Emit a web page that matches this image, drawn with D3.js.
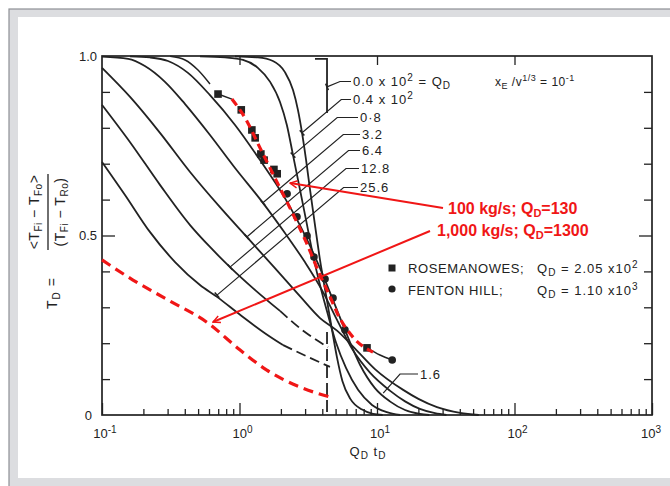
<!DOCTYPE html>
<html>
<head>
<meta charset="utf-8">
<script src="https://cdn.jsdelivr.net/npm/d3@7"></script>
<style>
  body { margin: 0; background: #fff; }
  svg { display: block; font-family: "Liberation Sans", Arial, sans-serif; }
</style>
</head>
<body>
<svg id="chart" width="670" height="486"></svg>
<script>
// type curves, Q_D x 10^2, points are [Q_D t_D, T_D]
const qd04 = [[0.928,0.999],[1.36,0.996],[1.75,0.986],[2.14,0.955],[2.45,0.905],[2.66,0.850],[2.85,0.786],[3.05,0.710],[3.26,0.627],[3.54,0.529],[3.85,0.432],[4.26,0.334],[4.71,0.237],[5.12,0.160],[5.6,0.095],[6.4,0.045],[7.8,0.015],[9.35,0.003],[11,0]];
const qd08 = [[0.516,0.999],[0.785,0.996],[1.06,0.989],[1.36,0.967],[1.67,0.928],[1.97,0.872],[2.21,0.808],[2.45,0.724],[2.71,0.641],[3.05,0.543],[3.42,0.446],[3.85,0.362],[4.40,0.279],[5.04,0.201],[5.95,0.131],[7.28,0.070],[9.20,0.028],[11.8,0.008],[14.7,0]];
const qd16 = [[0.160,0.999],[0.223,0.996],[0.302,0.986],[0.422,0.953],[0.610,0.891],[0.928,0.808],[1.41,0.710],[2.14,0.604],[2.99,0.501],[3.85,0.409],[4.79,0.320],[5.85,0.237],[7.52,0.140],[9.66,0.075],[12.4,0.038],[16.0,0.014],[20.5,0.003],[24,0]];
const qd32 = [[0.100,0.998],[0.155,0.992],[0.205,0.972],[0.287,0.928],[0.402,0.866],[0.610,0.780],[0.928,0.688],[1.48,0.591],[2.14,0.507],[2.99,0.426],[3.98,0.348],[5.12,0.265],[6.57,0.185],[8.89,0.118],[12.4,0.068],[16.0,0.038],[20.5,0.017],[26.4,0.005],[32,0]];
const qd64 = [[0.100,0.967],[0.160,0.886],[0.264,0.786],[0.437,0.677],[0.721,0.579],[1.13,0.496],[1.81,0.409],[2.75,0.331],[3.85,0.270],[5.12,0.235],[6.92,0.185],[9.66,0.128],[15.5,0.070],[20,0.045],[27.3,0.022],[40.2,0.006],[55,0]];
const qd128 = [[0.100,0.864],[0.160,0.760],[0.264,0.641],[0.437,0.529],[0.610,0.468],[0.853,0.412],[1.30,0.348],[1.97,0.290],[2.99,0.231],[4.40,0.189]];
const qd256 = [[0.100,0.705],[0.147,0.613],[0.223,0.510],[0.340,0.426],[0.516,0.362],[0.686,0.329],[1.01,0.279],[1.53,0.228],[2.07,0.195],[3.26,0.159],[4.55,0.134]];
// Q_D = 0 (step)
const qd0Top = [[3.54,0.992],[4.33,0.992],[4.33,0.841]];
const qd0Bottom = [[4.33,0.231],[4.33,0]];

// curve through the field data (black)
const fitTop = [[0.313,0.999],[0.402,0.989],[0.499,0.961],[0.610,0.922]];
const fitLink = [[0.698,0.894],[0.88,0.880]];
const fitTail = [[8.46,0.187],[10.5,0.167],[12.9,0.153]];

// field data
const rosemanowes = [[0.698,0.894],[1.03,0.850],[1.23,0.794],[1.30,0.772],[1.43,0.727],[1.51,0.710],[1.78,0.684],[1.88,0.672],[8.46,0.187]];
const fentonHill = [[2.22,0.616],[2.62,0.552],[3.10,0.499],[3.48,0.440],[4.19,0.379],[4.79,0.326],[5.85,0.237],[12.9,0.153]];

// red annotation curves
const red130 = [[0.88,0.880],[1.10,0.827],[1.41,0.744],[1.84,0.655],[2.41,0.565],[3.05,0.482],[3.85,0.390],[4.55,0.330],[5.12,0.285],[6.68,0.217],[9.35,0.175]];
const red1300 = [[0.1,0.432],[0.168,0.376],[0.297,0.322],[0.581,0.258],[1.01,0.181],[1.58,0.125],[2.75,0.078],[4.55,0.050]];
const arrowTips = [[2.33,0.646],[0.641,0.259]];

// labels
const curveLabels = [
  [['0.0 x 10',''],['2','sup'],[' = Q',''],['D','sub']],
  [['0.4 x 10',''],['2','sup']],
  [['0·8','']], [['3.2','']], [['6.4','']], [['12.8','']], [['25.6','']]
];
const labelTicks = [[4.33,0.914],[2.85,0.786],[2.45,0.724],[1.48,0.591],[1.13,0.496],[0.853,0.412],[0.686,0.334]];
const label16Tick = [11.1,0.061];
const xTickVals = [0.1, 1, 10, 100, 1000];
const xTickExp = ['-1', '0', '1', '2', '3'];
const yTickVals = [0, 0.5, 1];
const yTickText = ['0', '0.5', '1.0'];

const ink = '#222';
const red = '#f01616';

const svg = d3.select('#chart');
const x = d3.scaleLog().domain([0.1, 1000]).range([102, 652]);
const y = d3.scaleLinear().domain([0, 1]).range([415, 56]);

function rich(sel, parts, small) {
  let shift = 0;
  parts.forEach(([t, k]) => {
    const want = k === 'sub' ? 3 : k === 'sup' ? -5 : 0;
    sel.append('tspan').attr('dy', want - shift).attr('font-size', k ? small : null).text(t);
    shift = want;
  });
  return sel;
}

// slide frame
svg.append('rect').attr('width', 670).attr('height', 486).attr('fill', '#fff');
svg.append('rect').attr('x', 9).attr('y', 9).attr('width', 670).attr('height', 490)
  .attr('fill', '#dcdde0').attr('stroke', '#8e9095').attr('stroke-width', 1.2);
svg.append('rect').attr('x', 18).attr('y', 17).attr('width', 660).attr('height', 461).attr('fill', '#fff');

// ticks
function ticks(axis, tx, ty) {
  svg.append('g').attr('transform', `translate(${tx},${ty})`)
    .call(axis.tickFormat(''))
    .call(g => g.select('.domain').remove())
    .call(g => g.selectAll('line').attr('stroke', ink).attr('stroke-width', 1.3));
}
const minorX = d3.range(-1, 3).flatMap(e => d3.range(2, 10).map(m => m * Math.pow(10, e)));
const minorY = d3.range(1, 10).map(i => i / 10).filter(v => v !== 0.5);
ticks(d3.axisBottom(x).tickValues(minorX).tickSize(-6), 0, y(0));
ticks(d3.axisBottom(x).tickValues(xTickVals).tickSize(-12), 0, y(0));
ticks(d3.axisTop(x).tickValues([1, 10, 100]).tickSize(-9), 0, y(1));
ticks(d3.axisLeft(y).tickValues(minorY).tickSize(-8), x(0.1), 0);
ticks(d3.axisLeft(y).tickValues([0.5]).tickSize(-13), x(0.1), 0);
ticks(d3.axisRight(y).tickValues(minorY).tickSize(-8), x(1000), 0);
ticks(d3.axisRight(y).tickValues([0.5]).tickSize(-13), x(1000), 0);

svg.append('rect').attr('x', x(0.1)).attr('y', y(1)).attr('width', x(1000) - x(0.1)).attr('height', y(0) - y(1))
  .attr('fill', 'none').attr('stroke', ink).attr('stroke-width', 1.7);

// tick labels
const lbl = svg.append('g').attr('fill', ink).attr('font-size', 13);
yTickVals.forEach((v, i) => {
  lbl.append('text').attr('x', v === 0 ? 92 : 97).attr('y', y(v) + 4.5).attr('text-anchor', 'end').text(yTickText[i]);
});
xTickVals.forEach((v, i) => {
  rich(lbl.append('text').attr('x', x(v) + (i === 4 ? -1 : 3)).attr('y', 438).attr('text-anchor', 'middle'),
    [['10', ''], [xTickExp[i], 'sup']], 10);
});
rich(lbl.append('text').attr('x', 368).attr('y', 456).attr('text-anchor', 'middle').attr('letter-spacing', 1),
  [['Q', ''], ['D', 'sub'], [' t', ''], ['D', 'sub']], 10);

// y axis title
const yt = svg.append('g').attr('transform', 'translate(48,212) rotate(-90)').attr('fill', ink).attr('font-size', 14);
rich(yt.append('text').attr('x', -97).attr('y', 9).attr('letter-spacing', 1), [['T', ''], ['D', 'sub'], [' =', '']], 10);
yt.append('line').attr('x1', -38).attr('x2', 38).attr('stroke', ink).attr('stroke-width', 1.3);
rich(yt.append('text').attr('y', -9).attr('text-anchor', 'middle').attr('letter-spacing', 0.5),
  [['<T', ''], ['Fi', 'sub'], [' − T', ''], ['Fo', 'sub'], ['>', '']], 10);
rich(yt.append('text').attr('y', 17).attr('text-anchor', 'middle').attr('letter-spacing', 0.5),
  [['(T', ''], ['Fi', 'sub'], [' − T', ''], ['Ro', 'sub'], [')', '']], 10);

// curves
const line = d3.line().x(d => x(d[0])).y(d => y(d[1])).curve(d3.curveMonotoneX);
const straight = d3.line().x(d => x(d[0])).y(d => y(d[1]));
const typeCurves = [
  { pts: qd04 }, { pts: qd08 }, { pts: qd16 }, { pts: qd32 }, { pts: qd64 },
  { pts: qd128, dashAfter: 2.1 }, { pts: qd256, dashAfter: 2.1 }
];
const cg = svg.append('g').attr('fill', 'none').attr('stroke', ink).attr('stroke-width', 1.8);
typeCurves.forEach(c => {
  const solid = c.dashAfter ? c.pts.filter(d => d[0] <= c.dashAfter) : c.pts;
  cg.append('path').attr('d', line(solid));
  if (c.dashAfter) {
    cg.append('path').attr('d', line(c.pts.slice(solid.length - 1))).attr('stroke-dasharray', '10,5');
  }
});
cg.append('path').attr('d', straight(qd0Top));
cg.append('path').attr('d', straight(qd0Bottom)).attr('stroke-dasharray', '12,5');
[fitTop, fitLink, fitTail].forEach(s => cg.append('path').attr('d', line(s)).attr('stroke-width', 1.5));

// leaders for curve labels
const lg = svg.append('g').attr('stroke', ink).attr('stroke-width', 1.2).attr('fill', 'none');
const tg = svg.append('g').attr('fill', ink).attr('font-size', 13).attr('letter-spacing', 1);
const labelX = [353, 353, 360, 362, 362, 361, 360];
const labelY = [86, 104, 122, 139, 155, 173, 192];
labelTicks.forEach((t, i) => {
  const px = x(t[0]), py = y(t[1]);
  const ey = labelY[i] - 4.5;
  const ex = i === 0 ? 340 : px + (py - ey) / 0.85;
  lg.append('path').attr('d', `M${px},${py}L${ex},${ey}L${labelX[i] - 2},${ey}`);
  const ang = Math.atan2(ey - py, ex - px) + Math.PI / 2;
  lg.append('line').attr('x1', px - 3.5 * Math.cos(ang)).attr('y1', py - 3.5 * Math.sin(ang))
    .attr('x2', px + 3.5 * Math.cos(ang)).attr('y2', py + 3.5 * Math.sin(ang)).attr('stroke-width', 1.6);
  rich(tg.append('text').attr('x', labelX[i]).attr('y', labelY[i]), curveLabels[i], 10);
});
{
  const px = x(label16Tick[0]), py = y(label16Tick[1]);
  lg.append('path').attr('d', `M${px},${py}L400,374L418,374`);
  tg.append('text').attr('x', 420).attr('y', 379).text('1.6');
}
rich(tg.append('text').attr('x', 495).attr('y', 86).attr('font-size', 12).attr('letter-spacing', 0.5),
  [['x', ''], ['E', 'sub'], [' /v', ''], ['1/3', 'sup'], [' = 10', ''], ['-1', 'sup']], 9);

// legend
svg.append('rect').attr('x', 388.5).attr('y', 264.5).attr('width', 7).attr('height', 7).attr('fill', ink);
svg.append('circle').attr('cx', 392).attr('cy', 289).attr('r', 3.6).attr('fill', ink);
tg.append('text').attr('x', 408).attr('y', 273).attr('letter-spacing', 0.6).text('ROSEMANOWES;');
tg.append('text').attr('x', 408).attr('y', 295).attr('letter-spacing', 0.6).text('FENTON HILL;');
rich(tg.append('text').attr('x', 537).attr('y', 273), [['Q', ''], ['D', 'sub'], [' = 2.05 x10', ''], ['2', 'sup']], 10);
rich(tg.append('text').attr('x', 537).attr('y', 295), [['Q', ''], ['D', 'sub'], [' = 1.10 x10', ''], ['3', 'sup']], 10);

// data markers
svg.append('g').selectAll('rect').data(rosemanowes).join('rect')
  .attr('x', d => x(d[0]) - 3.8).attr('y', d => y(d[1]) - 3.8).attr('width', 7.6).attr('height', 7.6).attr('fill', ink);
svg.append('g').selectAll('circle').data(fentonHill).join('circle')
  .attr('cx', d => x(d[0])).attr('cy', d => y(d[1])).attr('r', 3.8).attr('fill', ink);

// red annotations
svg.append('path').attr('d', line(red1300)).attr('fill', 'none').attr('stroke', red)
  .attr('stroke-width', 3.2).attr('stroke-dasharray', '10,6');
svg.append('path').attr('d', line(red130)).attr('fill', 'none').attr('stroke', red)
  .attr('stroke-width', 3.2).attr('stroke-dasharray', '8,5');

svg.append('defs').append('marker').attr('id', 'tip').attr('viewBox', '0 0 10 10')
  .attr('refX', 9).attr('refY', 5).attr('markerWidth', 9).attr('markerHeight', 9)
  .attr('markerUnits', 'userSpaceOnUse').attr('orient', 'auto')
  .append('path').attr('d', 'M1,1L9,5L1,9').attr('fill', 'none').attr('stroke', red).attr('stroke-width', 1.6);
const arrowFrom = [[443, 208], [430, 231]];
arrowTips.forEach((t, i) => {
  svg.append('line').attr('x1', arrowFrom[i][0]).attr('y1', arrowFrom[i][1])
    .attr('x2', x(t[0])).attr('y2', y(t[1])).attr('stroke', red).attr('stroke-width', 2)
    .attr('marker-end', 'url(#tip)');
});
const rt = svg.append('g').attr('fill', red).attr('font-size', 16).attr('font-weight', 'bold');
rich(rt.append('text').attr('x', 448).attr('y', 214), [['100 kg/s; Q', ''], ['D', 'sub'], ['=130', '']], 11);
rich(rt.append('text').attr('x', 437).attr('y', 236), [['1,000 kg/s; Q', ''], ['D', 'sub'], ['=1300', '']], 11);
</script>
</body>
</html>
